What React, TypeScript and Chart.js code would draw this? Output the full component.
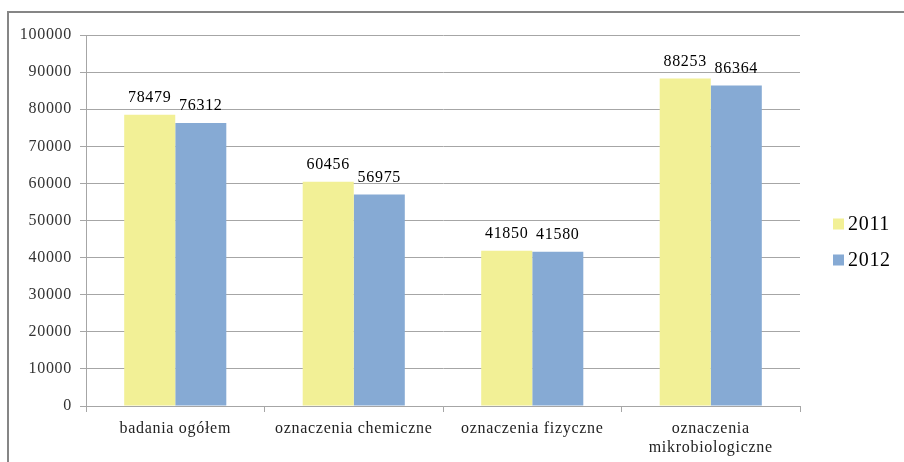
import React, { useEffect, useRef } from 'react';
import { Chart, registerables } from 'chart.js';

Chart.register(...registerables);

const categories: (string | string[])[] = [
  'badania ogółem',
  'oznaczenia chemiczne',
  'oznaczenia fizyczne',
  ['oznaczenia', 'mikrobiologiczne'],
];
const seriesNames = ['2011', '2012'];
const values2011 = [78479, 60456, 41850, 88253];
const values2012 = [76312, 56975, 41580, 86364];
const yMin = 0;
const yMax = 100000;
const yStep = 10000;
const seriesColors = ['#F2F096', '#86AAD4'];

const FONT = "'Liberation Serif', 'Times New Roman', serif";
const SPACING = '0.7px';

const spacingPlugin = {
  id: 'spacing',
  beforeDraw(chart: any) {
    chart.ctx.letterSpacing = SPACING;
  },
  afterDraw(chart: any) {
    chart.ctx.letterSpacing = '0px';
  },
};

const dataLabelPlugin = {
  id: 'dataLabels',
  afterDatasetsDraw(chart: any) {
    const ctx = chart.ctx;
    ctx.save();
    ctx.letterSpacing = SPACING;
    ctx.font = `16px ${FONT}`;
    ctx.fillStyle = '#000';
    ctx.textAlign = 'center';
    ctx.textBaseline = 'alphabetic';
    chart.data.datasets.forEach((ds: any, i: number) => {
      const meta = chart.getDatasetMeta(i);
      meta.data.forEach((el: any, j: number) => {
        ctx.fillText(String(ds.data[j]), el.x, el.y - 13);
      });
    });
    ctx.restore();
  },
};

const legendPlugin = {
  id: 'sideLegend',
  afterDraw(chart: any) {
    const ctx = chart.ctx;
    const area = chart.chartArea;
    ctx.save();
    ctx.letterSpacing = SPACING;
    ctx.font = `20px ${FONT}`;
    ctx.textAlign = 'left';
    ctx.textBaseline = 'middle';
    chart.data.datasets.forEach((ds: any, i: number) => {
      const x = area.right + 33;
      const y = area.top + 189 + i * 36;
      ctx.fillStyle = ds.backgroundColor;
      ctx.fillRect(x, y - 5.5, 11, 11);
      ctx.fillStyle = '#000';
      ctx.fillText(ds.label, x + 15, y + 1);
    });
    ctx.restore();
  },
};

export default function App() {
  const canvasRef = useRef<HTMLCanvasElement | null>(null);

  useEffect(() => {
    if (!canvasRef.current) return;
    const chart = new Chart(canvasRef.current, {
      type: 'bar',
      data: {
        labels: categories as any,
        datasets: [
          { label: seriesNames[0], data: values2011, backgroundColor: seriesColors[0], borderWidth: 0 },
          { label: seriesNames[1], data: values2012, backgroundColor: seriesColors[1], borderWidth: 0 },
        ],
      },
      options: {
        responsive: false,
        maintainAspectRatio: false,
        animation: false,
        layout: { padding: { top: 35, right: 104, left: 0, bottom: 0 } },
        datasets: {
          bar: { categoryPercentage: 0.572, barPercentage: 1 },
        } as any,
        plugins: {
          legend: { display: false },
          tooltip: { enabled: false },
        },
        scales: {
          x: {
            afterFit(scale: any) {
              scale.height = 56;
            },
            grid: {
              drawOnChartArea: false,
              offset: true,
              tickLength: 6,
              color: '#a6a6a6',
            },
            border: { color: '#a6a6a6' },
            ticks: {
              font: { family: FONT, size: 16, lineHeight: 1.22 },
              color: '#222',
              padding: 7,
              maxRotation: 0,
              autoSkip: false,
            },
          },
          y: {
            min: yMin,
            max: yMax,
            afterFit(scale: any) {
              scale.width = 86;
            },
            grid: { color: '#a6a6a6', tickLength: 6 },
            border: { color: '#a6a6a6' },
            ticks: {
              stepSize: yStep,
              font: { family: FONT, size: 16 },
              color: '#333',
              padding: 8,
              callback: (v: any) => String(v),
            },
          },
        },
      },
      plugins: [spacingPlugin, dataLabelPlugin, legendPlugin],
    });
    return () => chart.destroy();
  }, []);

  return (
    <div style={{ position: 'fixed', left: 0, top: 0, width: 904, height: 462, background: '#fff', overflow: 'hidden' }}>
      <canvas ref={canvasRef} width={904} height={462} style={{ display: 'block', position: 'absolute', left: 0, top: 0 }} />
      <div
        style={{
          position: 'absolute',
          left: 7,
          top: 11,
          right: -4,
          bottom: -4,
          borderLeft: '2px solid #868686',
          borderTop: '2px solid #868686',
          pointerEvents: 'none',
        }}
      />
    </div>
  );
}
